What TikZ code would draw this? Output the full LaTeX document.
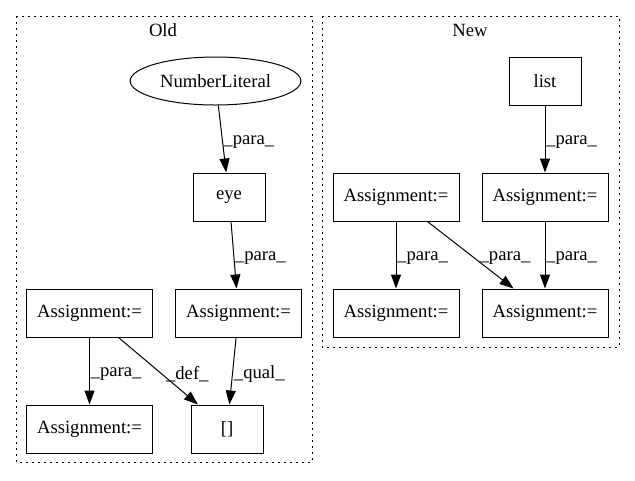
\documentclass[tikz,border=0pt]{standalone}
\usepackage{fontspec}
\setmainfont{Liberation Serif}
\usetikzlibrary{arrows.meta,shapes}
\tikzset{
  opnode/.style={draw, rectangle, minimum width=94.5pt, minimum height=36pt, inner sep=0pt, line width=0.75pt, font=\fontsize{14}{16}\selectfont},
  smallnode/.style={opnode, minimum width=54pt},
  litnode/.style={draw, ellipse, minimum width=128pt, minimum height=36pt, inner sep=0pt, line width=0.75pt, font=\fontsize{14}{16}\selectfont},
  flow/.style={-{Triangle[length=10.5pt,width=7.5pt]}, line width=0.75pt},
  elabel/.style={font=\fontsize{14}{16}\selectfont, inner sep=0.5pt, right, yshift=-2.5pt},
  clusterbox/.style={draw, line width=0.75pt, dash pattern=on 1.2pt off 3.3pt},
  clustertitle/.style={font=\fontsize{14}{16}\selectfont, inner sep=0pt}
}

\begin{document}
\begin{tikzpicture}[x=0.75pt, y=-0.75pt]
  \useasboundingbox (0,0) rectangle (635,480);
  % clusters
  \draw[clusterbox] (16,16) rectangle (312,462);
  \draw[clusterbox] (322,16) rectangle (619,347);
  \node[clustertitle] (oldtitle) at (163,30) {Old};
  \node[clustertitle] (newtitle) at (470,30) {New};

  % old
  \node[litnode] (numlit) at (215.5,81) {NumberLiteral};
  \node[smallnode] (eye) at (229,197) {eye};
  \node[opnode] (oldassignR) at (238.5,313) {Assignment:=};
  \node[opnode] (oldassignL) at (89.5,313) {Assignment:=};
  \node[opnode] (oldassignB) at (89.5,429) {Assignment:=};
  \node[smallnode] (subscr) at (227,429) {[]};

  \draw[flow] (numlit) -- node[elabel] {\_para\_} (eye);
  \draw[flow] (eye) -- node[elabel] {\_para\_} (oldassignR);
  \draw[flow] (oldassignR) -- node[elabel] {\_qual\_} (subscr);
  \draw[flow] (oldassignL) -- node[elabel] {\_para\_} (oldassignB);
  \draw[flow] (oldassignL) -- node[elabel, xshift=5pt] {\_def\_} (subscr);

  % new
  \node[smallnode] (listcall) at (545,81) {list};
  \node[opnode] (newassignR) at (545,197) {Assignment:=};
  \node[opnode] (newassignL) at (396,197) {Assignment:=};
  \node[opnode] (newassignBL) at (396,313) {Assignment:=};
  \node[opnode] (newassignBR) at (545,313) {Assignment:=};

  \draw[flow] (listcall) -- node[elabel] {\_para\_} (newassignR);
  \draw[flow] (newassignR) -- node[elabel] {\_para\_} (newassignBR);
  \draw[flow] (newassignL) -- node[elabel] {\_para\_} (newassignBL);
  \draw[flow] (newassignL) -- node[elabel, xshift=6pt] {\_para\_} (newassignBR);
\end{tikzpicture}
\end{document}
